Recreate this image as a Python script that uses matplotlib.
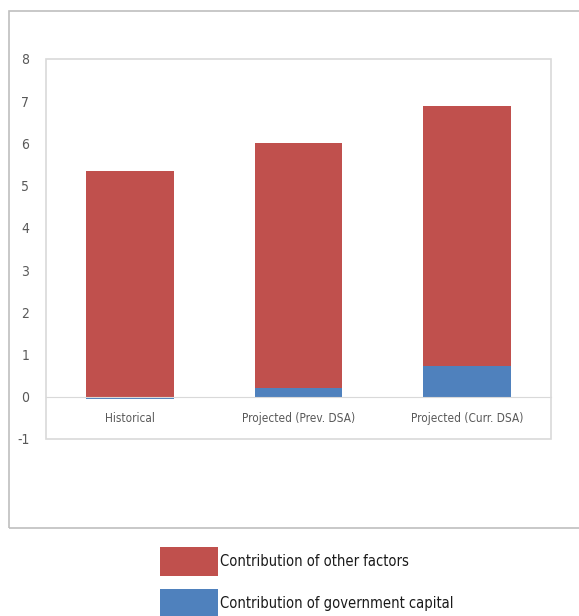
import matplotlib
matplotlib.use("Agg")
import matplotlib.pyplot as plt
from matplotlib.patches import Rectangle, Patch

plt.rcParams['font.family'] = ['DejaVu Sans']
plt.rcParams['font.stretch'] = 'condensed'

categories = ["Historical", "Projected (Prev. DSA)", "Projected (Curr. DSA)"]
gov_capital = [-0.05, 0.21, 0.72]
other_factors = [5.35, 5.79, 6.16]
y_ticks = [-1, 0, 1, 2, 3, 4, 5, 6, 7, 8]
series_labels = ["Contribution of other factors", "Contribution of government capital"]

RED = "#C0504D"
BLUE = "#4F81BD"
GRID = "#D9D9D9"
TXT = "#595959"

fig = plt.figure(figsize=(5.79, 6.16), dpi=100)
ax = fig.add_axes([46 / 579, 1 - 439 / 616, 505 / 579, 380 / 616])

x = list(range(len(categories)))
# positive parts stack upward from zero, negative parts hang below it
red_bottom = [max(g, 0) for g in gov_capital]
ax.bar(x, gov_capital, width=0.52, color=BLUE, zorder=3)
ax.bar(x, other_factors, width=0.52, bottom=red_bottom, color=RED, zorder=3)

ax.set_xlim(-0.5, 2.5)
ax.set_ylim(-1, 8)
ax.set_yticks(y_ticks)
ax.set_yticklabels([str(t) for t in y_ticks], color=TXT, fontsize=10)
ax.tick_params(axis='y', length=0, pad=12)

# category axis runs along the zero line
for s in ["top", "right", "left"]:
    ax.spines[s].set_visible(False)
ax.spines["bottom"].set_position(("data", 0))
ax.spines["bottom"].set_color(GRID)
ax.spines["bottom"].set_zorder(4)
ax.set_xticks(x)
ax.set_xticklabels(categories, color=TXT, fontsize=8.5)
ax.tick_params(axis='x', length=0, pad=11)

# plot-area border
ax.add_patch(Rectangle((0, 0), 1, 1, transform=ax.transAxes, fill=False,
                       edgecolor=GRID, linewidth=1.2, zorder=5, clip_on=False))

# chart-area border
fig.patches.append(Rectangle((9 / 579, 1 - 528 / 616), 1.0, (528 - 11) / 616,
                             transform=fig.transFigure, fill=False,
                             edgecolor="#BFBFBF", linewidth=1.2))

handles = [Patch(facecolor=RED), Patch(facecolor=BLUE)]
fig.legend(handles, series_labels, loc="upper left",
           bbox_to_anchor=(160 / 579, 1 - 547 / 616), frameon=False,
           fontsize=10.5, handlelength=4.0, handleheight=2.65,
           handletextpad=0.1, labelspacing=0.9, borderpad=0,
           borderaxespad=0, labelcolor="#1A1A1A")

fig.savefig("out.png", dpi=100)
